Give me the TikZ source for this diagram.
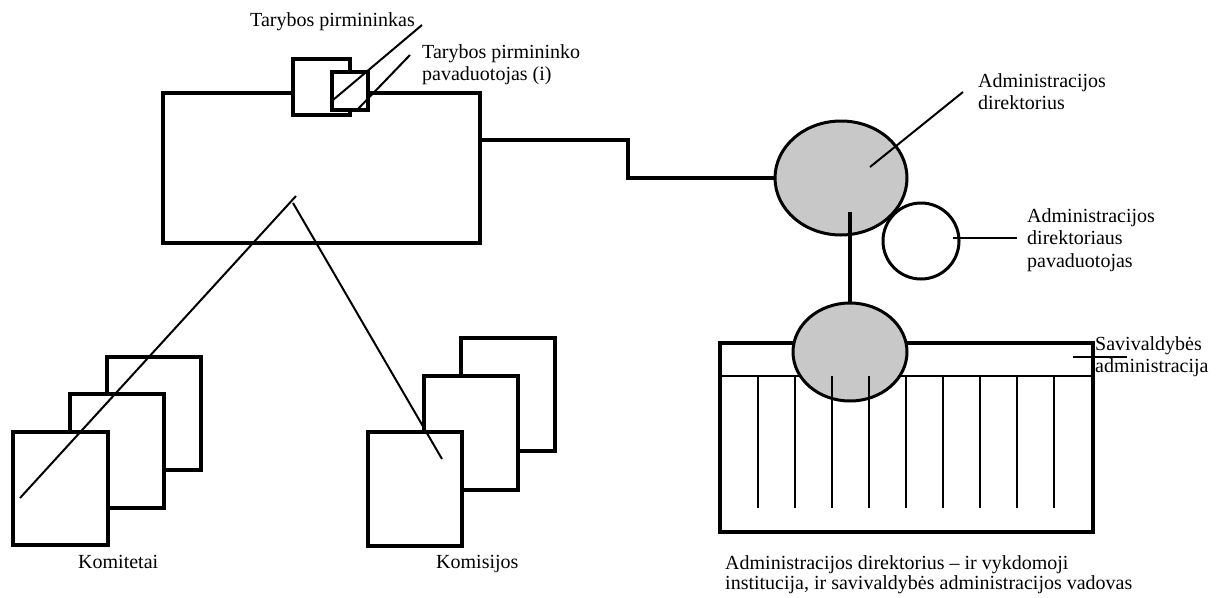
\documentclass[tikz,border=0pt]{standalone}
\usepackage{fontspec}
\setmainfont{Liberation Serif}
\usetikzlibrary{shapes.geometric}
\definecolor{fillgray}{RGB}{200,200,200}
\begin{document}
\begin{tikzpicture}[x=1pt,y=-1pt,
  box/.style={draw, line width=3.6pt, fill=white, rectangle, inner sep=0pt, outer sep=0pt},
  bigbox/.style={draw, line width=3.4pt, rectangle, inner sep=0pt, outer sep=0pt},
  oval/.style={draw, line width=3pt, ellipse, inner sep=0pt, outer sep=0pt},
  conn/.style={line width=3.4pt},
  lead/.style={line width=2pt},
  thin/.style={line width=2.3pt},
  lbl/.style={font=\fontsize{20}{22.5}\selectfont, inner sep=0pt, anchor=base west, align=left}
]
\useasboundingbox (0,0) rectangle (1226,597);

% council
\node[bigbox, minimum width=317pt, minimum height=150pt] (council) at (321.5,168) {};
\node[box, line width=3.4pt, minimum width=57pt, minimum height=56pt] (chair) at (321.5,87) {};
\node[box, line width=3.4pt, minimum width=36pt, minimum height=38pt] (deputy) at (350,91) {};
\coordinate (chairpt) at (333,100);
\coordinate (deppt) at (357,110);
\coordinate (chairlbl) at (422,25);
\coordinate (deplbl) at (410,55);
\draw[lead] (chairlbl) -- (chairpt);
\draw[lead] (deplbl) -- (deppt);
\node[lbl] (tchair) at (250,27) {Tarybos pirmininkas};
% anchor base = baseline of the last line
\node[lbl] (tdep) at (422,80.5) {Tarybos pirmininko\\pavaduotojas (i)};

% committees
\node[box, minimum width=94pt, minimum height=113pt] (kom3) at (154,413.5) {};
\node[box, minimum width=94pt, minimum height=114pt] (kom2) at (117,451) {};
\node[box, minimum width=95pt, minimum height=113pt] (kom1) at (60.5,488.5) {};
\node[lbl] (tkom) at (78,568) {Komitetai};
% commissions
\node[box, minimum width=94pt, minimum height=113pt] (kms3) at (508,394.5) {};
\node[box, minimum width=94pt, minimum height=114pt] (kms2) at (471,433) {};
\node[box, minimum width=94pt, minimum height=114pt] (kms1) at (415,489) {};
\node[lbl] (tkms) at (436,568) {Komisijos};

\coordinate (vl) at (296,196);
\coordinate (vr) at (293,203);
\coordinate (kl) at (20,498);
\coordinate (kr) at (442,459);
\draw[lead] (vl) -- (kl);
\draw[lead] (vr) -- (kr);

% director
\node[oval, fill=fillgray, minimum width=132pt, minimum height=114pt] (dir) at (841,178) {};
\node[oval, fill=white, minimum width=76pt, minimum height=76pt] (dep) at (921,241) {};
\coordinate (c1) at (480,140);
\coordinate (bend) at (628,178);
\draw[conn] (c1) -| (bend) -- (dir.west);

\coordinate (dirpt) at (870,167);
\coordinate (dirlbl) at (963,92);
\draw[lead] (dirpt) -- (dirlbl);
\node[lbl] (tdir) at (978,109.5) {Administracijos\\direktorius};

\coordinate (deppt2) at (953,238);
\coordinate (deplbl2) at (1017,238);
\draw[lead] (deppt2) -- (deplbl2);
\node[lbl] (tdep2) at (1027,267) {Administracijos\\direktoriaus\\pavaduotojas};

% administration
\node[box, minimum width=373pt, minimum height=189pt] (admrect) at (906.5,437.5) {};
\coordinate (inl) at (720,376);
\coordinate (inr) at (1093,376);
\draw[line width=2.2pt] (inl) -- (inr);
\node[oval, fill=fillgray, minimum width=114pt, minimum height=98pt] (adm) at (850,352) {};
\coordinate (d1) at (850,212);
\draw[conn] (d1) -- (adm.north);
\foreach \i in {0,...,8} {
  \coordinate (vt\i) at (758+37*\i,376);
  \coordinate (vb\i) at (758+37*\i,508);
  \draw[thin] (vt\i) -- (vb\i);
}
\coordinate (sl) at (1073,357);
\coordinate (sr) at (1127,357);
\draw[line width=2.6pt] (sl) -- (sr);
\node[lbl] (tsav) at (1095,372.5) {Savivaldybės\\administracija};

\node[lbl, font=\fontsize{20}{20}\selectfont] (tbottom) at (725,589) {Administracijos direktorius -- ir vykdomoji\\institucija, ir savivaldybės administracijos vadovas};
\end{tikzpicture}
\end{document}
